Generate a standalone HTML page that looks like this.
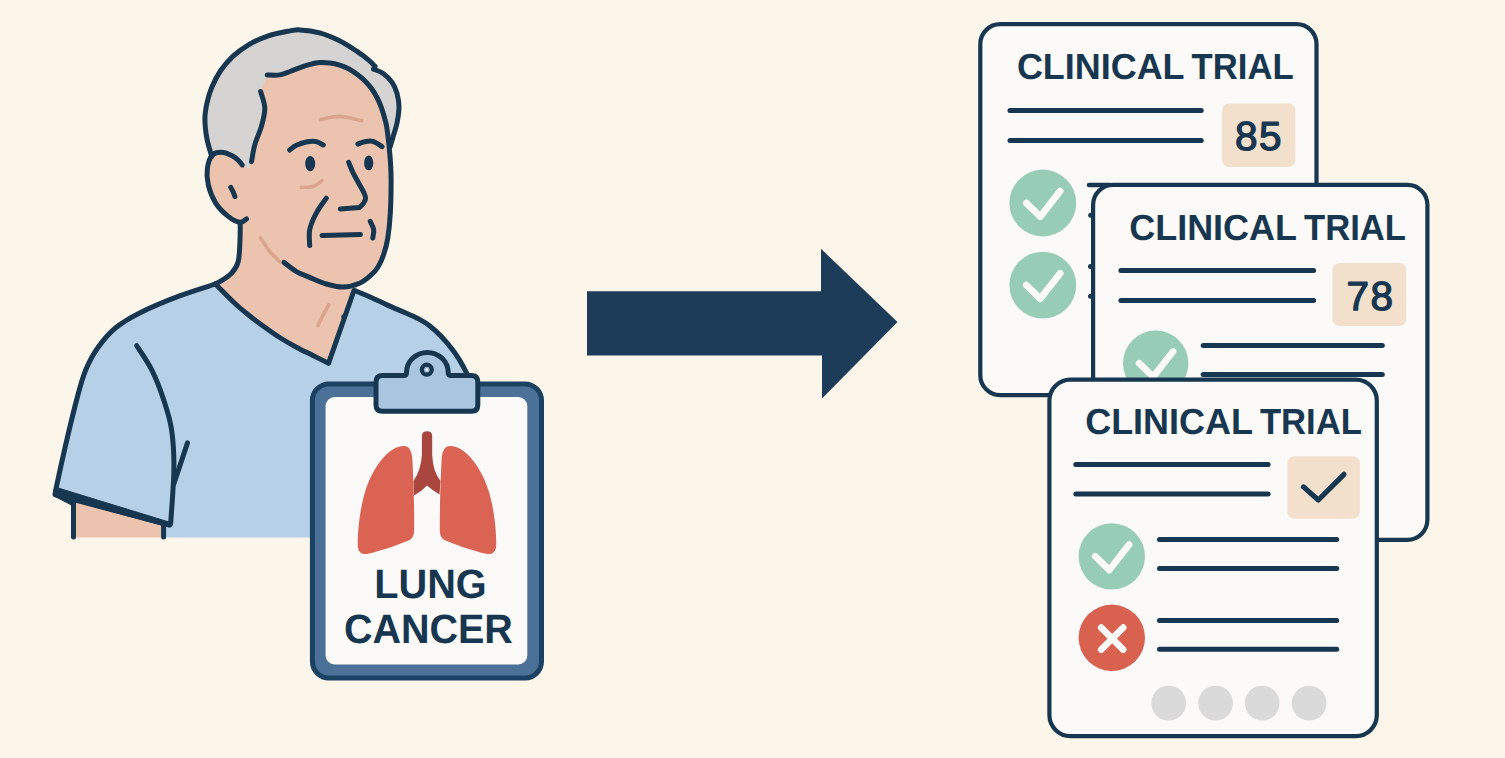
<!DOCTYPE html>
<html><head><meta charset="utf-8"><title>Clinical trial matching</title>
<style>
html,body{margin:0;padding:0;background:#fbf5ea;}
body{width:1505px;height:758px;overflow:hidden;}
svg{display:block}
text{font-family:"Liberation Sans",sans-serif;font-weight:700;fill:#173650;text-rendering:geometricPrecision;}
.ol{fill:none;stroke:#173650;stroke-width:5;stroke-linecap:round;stroke-linejoin:round}
.wr{fill:none;stroke:#daa58c;stroke-width:3.6;stroke-linecap:round}
.ln{stroke:#173650;stroke-width:5;stroke-linecap:round}
</style></head><body>
<svg width="1505" height="758" viewBox="0 0 1505 758">
<rect width="1505" height="758" fill="#fbf5ea"/>

<path d="M73.5,498 L73.5,537.5 L163.6,537.5 L163.6,520 Z" fill="#ebc3af"/>
<path d="M240.2,223.1 C240.2,225.9 240.3,233.6 240.0,240.0 C239.7,246.4 239.6,256.1 238.2,261.6 C236.8,267.1 234.6,269.9 231.5,273.2 C228.4,276.5 222.7,279.8 219.9,281.6 C217.1,283.4 215.7,283.6 214.9,284.0 L250,325 L328.5,372 L354.5,290.5 L385,250 L300,200 Z" fill="#ebc3af"/>
<path d="M215.4,284.0 C209.4,286.0 192.1,291.1 179.5,295.9 C166.9,300.7 150.3,307.6 139.7,312.9 C129.1,318.2 122.7,322.0 115.7,327.8 C108.7,333.6 102.8,340.7 97.8,347.7 C92.8,354.7 89.1,361.8 85.8,369.7 C82.5,377.6 81.2,382.6 77.9,395.0 C74.6,407.4 69.6,427.9 65.9,443.9 C62.2,459.9 57.2,483.1 55.5,491.0 L55,494.7 L163.6,524 L163.6,537.5 L500,537.5 L500,400 L466.6,372.9 C465.3,370.5 461.3,362.8 458.7,358.6 C456.1,354.4 453.7,351.2 450.8,347.5 C447.9,343.8 444.7,340.1 441.3,336.5 C437.9,332.9 433.9,329.1 430.2,326.2 C426.5,323.3 423.6,321.5 419.1,319.1 C414.6,316.7 408.6,314.2 403.3,311.9 C398.0,309.6 392.8,307.5 387.5,305.1 C382.2,302.7 377.2,300.1 371.7,297.7 C366.2,295.3 357.4,291.7 354.5,290.5 L328.5,363.3 C325.9,362.0 318.4,358.2 313.0,355.5 C307.6,352.8 301.9,350.2 296.4,347.2 C290.8,344.2 285.2,341.0 279.7,337.5 C274.1,334.0 268.1,329.6 263.1,326.0 C258.1,322.4 254.5,319.8 249.8,316.0 C245.1,312.2 240.7,308.8 235.0,303.5 C229.3,298.2 218.7,287.2 215.4,284.0 Z" fill="#b6d0e8"/>
<path class="ol" d="M215.4,284.0 C209.4,286.0 192.1,291.1 179.5,295.9 C166.9,300.7 150.3,307.6 139.7,312.9 C129.1,318.2 122.7,322.0 115.7,327.8 C108.7,333.6 102.8,340.7 97.8,347.7 C92.8,354.7 89.1,361.8 85.8,369.7 C82.5,377.6 81.2,382.6 77.9,395.0 C74.6,407.4 69.6,427.9 65.9,443.9 C62.2,459.9 57.2,483.1 55.5,491.0 L55,494.7 L169.6,525"/>
<path class="ol" d="M136.7,345.7 C139.2,349.7 147.1,360.7 151.6,369.7 C156.1,378.7 160.3,389.6 163.6,399.6 C166.9,409.6 169.9,418.2 171.6,429.9 C173.3,441.6 174.1,454.1 173.9,469.8 C173.7,485.5 171.2,515.0 170.6,524.0"/>
<path class="ol" d="M187.5,442.9 L173.9,483.7"/>
<path d="M56.5,487.5 L169,522 L169.5,527 L161.5,525 L77.5,502 L72.5,505.5 L55,496.5 Q53,492.5 54.5,488.5 Z" fill="#173650" stroke="#173650" stroke-width="1" stroke-linejoin="round"/>
<path class="ol" d="M73.5,501 L73.5,537"/>
<path class="ol" d="M163.6,525 L163.6,537"/>
<path class="ol" d="M215.4,284.0 C218.7,287.2 229.3,298.2 235.0,303.5 C240.7,308.8 245.1,312.2 249.8,316.0 C254.5,319.8 258.1,322.4 263.1,326.0 C268.1,329.6 274.1,334.0 279.7,337.5 C285.2,341.0 290.8,344.2 296.4,347.2 C301.9,350.2 307.6,352.8 313.0,355.5 C318.4,358.2 325.9,362.0 328.5,363.3 L354,290.5"/>
<path class="ol" d="M354.5,290.5 C357.4,291.7 366.2,295.3 371.7,297.7 C377.2,300.1 382.2,302.7 387.5,305.1 C392.8,307.5 398.0,309.6 403.3,311.9 C408.6,314.2 414.6,316.7 419.1,319.1 C423.6,321.5 426.5,323.3 430.2,326.2 C433.9,329.1 437.9,332.9 441.3,336.5 C444.7,340.1 447.9,343.8 450.8,347.5 C453.7,351.2 456.1,354.4 458.7,358.6 C461.3,362.8 465.3,370.5 466.6,372.9"/>
<circle cx="343.5" cy="316.8" r="2.3" fill="#173650"/>
<path class="wr" d="M328.8,304.8 Q322,316 318,325.6"/>
<path d="M211.8,156.6 C211.0,153.6 208.1,145.1 206.9,138.8 C205.8,132.5 204.9,124.9 204.9,119.0 C204.9,113.1 205.8,108.5 206.9,103.2 C208.1,97.9 209.5,92.8 211.8,87.3 C214.1,81.8 217.2,75.6 220.7,70.5 C224.2,65.4 228.0,60.9 232.6,56.6 C237.2,52.3 242.6,48.3 248.5,44.8 C254.4,41.3 261.4,38.1 268.3,35.8 C275.2,33.5 284.7,31.9 290.0,30.9 C295.3,29.9 295.0,29.6 300.0,29.9 C305.0,30.2 313.2,31.1 319.8,32.9 C326.4,34.7 333.3,37.7 339.6,40.8 C345.9,43.9 352.4,48.4 357.4,51.7 C362.3,55.0 366.4,58.1 369.3,60.6 C372.2,63.1 374.0,65.5 374.9,66.5 L373.7,69.1 C375.3,69.8 380.1,71.3 383.2,73.5 C386.3,75.7 389.8,79.1 392.1,82.4 C394.4,85.7 395.9,89.2 397.0,93.3 C398.1,97.4 399.0,102.1 399.0,107.1 C399.0,112.0 398.0,118.0 397.0,123.0 C396.0,128.0 394.2,132.9 393.1,136.8 C392.0,140.8 390.6,145.0 390.1,146.7 L389.4,144.7 L300,175 L246,172 L242.3,164.9 L223,152 Z" fill="#d6d4d3"/>
<path d="M242.3,164.9 C241.1,163.7 238.1,159.5 234.9,157.4 C231.7,155.3 226.9,152.8 223.2,152.4 C219.4,152.0 215.0,152.4 212.4,155.0 C209.8,157.6 208.1,163.2 207.4,168.2 C206.7,173.2 206.9,179.1 208.3,184.9 C209.7,190.7 212.4,197.8 215.7,203.1 C219.0,208.3 224.2,213.2 228.2,216.4 C232.2,219.6 236.8,221.9 239.8,222.3 C242.9,222.7 245.4,219.5 246.5,218.9 L260,200 L252,170 Z" fill="#ebc3af"/>
<path d="M267.3,74.9 C269.4,74.9 275.9,75.5 279.7,74.9 C283.5,74.3 286.6,72.7 290.0,71.5 C293.4,70.3 296.7,68.8 300.0,67.6 C303.3,66.4 306.7,65.2 310.0,64.4 C313.3,63.6 316.5,62.8 319.8,62.6 C323.1,62.4 326.7,62.6 330.0,63.0 C333.3,63.4 336.4,64.1 339.6,65.1 C342.8,66.1 346.0,67.4 349.0,69.0 C352.0,70.6 354.7,72.5 357.4,74.5 C360.1,76.5 362.7,78.7 365.0,81.0 C367.3,83.3 369.3,85.5 371.3,88.3 C373.3,91.0 375.4,94.4 377.0,97.5 C378.6,100.6 380.0,103.8 381.2,107.1 C382.4,110.3 383.4,113.7 384.3,117.0 C385.2,120.3 385.9,122.0 386.7,126.9 C387.5,131.8 388.5,140.7 389.1,146.7 C389.7,152.7 390.2,157.5 390.5,163.0 C390.8,168.5 391.1,171.6 391.1,179.9 C391.1,188.2 390.9,203.4 390.3,213.1 C389.8,222.8 388.9,231.1 387.8,238.0 C386.7,244.9 385.2,249.9 383.6,254.7 C382.0,259.5 380.1,263.6 378.0,267.0 C375.9,270.4 374.3,272.2 371.2,274.9 C368.1,277.6 364.2,281.2 359.5,283.2 C354.8,285.2 348.4,286.9 342.9,287.0 C337.4,287.1 331.8,285.6 326.3,284.0 C320.8,282.4 314.7,279.5 309.7,277.4 C304.7,275.3 300.7,274.1 296.4,271.6 C292.1,269.1 286.0,263.9 283.9,262.4 L261,238 L238,250 L240.2,223 L244.5,205 L247,175 L251.5,161.6 C252.1,158.8 253.2,150.6 254.8,144.7 C256.4,138.8 259.7,132.5 261.4,126.4 C263.1,120.3 264.9,113.9 264.8,108.1 C264.7,102.3 261.3,94.3 260.6,91.5 Z" fill="#ebc3af"/>
<path class="ol" d="M240.2,223.1 C240.2,225.9 240.3,233.6 240.0,240.0 C239.7,246.4 239.6,256.1 238.2,261.6 C236.8,267.1 234.6,269.9 231.5,273.2 C228.4,276.5 222.7,279.8 219.9,281.6 C217.1,283.4 215.7,283.6 214.9,284.0"/>
<path class="ol" d="M211.8,156.6 C211.0,153.6 208.1,145.1 206.9,138.8 C205.8,132.5 204.9,124.9 204.9,119.0 C204.9,113.1 205.8,108.5 206.9,103.2 C208.1,97.9 209.5,92.8 211.8,87.3 C214.1,81.8 217.2,75.6 220.7,70.5 C224.2,65.4 228.0,60.9 232.6,56.6 C237.2,52.3 242.6,48.3 248.5,44.8 C254.4,41.3 261.4,38.1 268.3,35.8 C275.2,33.5 284.7,31.9 290.0,30.9 C295.3,29.9 295.0,29.6 300.0,29.9 C305.0,30.2 313.2,31.1 319.8,32.9 C326.4,34.7 333.3,37.7 339.6,40.8 C345.9,43.9 352.4,48.4 357.4,51.7 C362.3,55.0 366.4,58.1 369.3,60.6 C372.2,63.1 374.0,65.5 374.9,66.5"/>
<path class="ol" d="M373.7,69.1 C375.3,69.8 380.1,71.3 383.2,73.5 C386.3,75.7 389.8,79.1 392.1,82.4 C394.4,85.7 395.9,89.2 397.0,93.3 C398.1,97.4 399.0,102.1 399.0,107.1 C399.0,112.0 398.0,118.0 397.0,123.0 C396.0,128.0 394.2,132.9 393.1,136.8 C392.0,140.8 390.6,145.0 390.1,146.7"/>
<path class="ol" d="M374.9,66.5 L373.7,69.1"/>
<path class="ol" d="M267.3,74.9 C269.4,74.9 275.9,75.5 279.7,74.9 C283.5,74.3 286.6,72.7 290.0,71.5 C293.4,70.3 296.7,68.8 300.0,67.6 C303.3,66.4 306.7,65.2 310.0,64.4 C313.3,63.6 316.5,62.8 319.8,62.6 C323.1,62.4 326.7,62.6 330.0,63.0 C333.3,63.4 336.4,64.1 339.6,65.1 C342.8,66.1 346.0,67.4 349.0,69.0 C352.0,70.6 354.7,72.5 357.4,74.5 C360.1,76.5 362.7,78.7 365.0,81.0 C367.3,83.3 369.3,85.5 371.3,88.3 C373.3,91.0 375.4,94.4 377.0,97.5 C378.6,100.6 380.0,103.8 381.2,107.1 C382.4,110.3 383.4,113.7 384.3,117.0 C385.2,120.3 385.9,122.0 386.7,126.9 C387.5,131.8 388.5,140.7 389.1,146.7 C389.7,152.7 390.2,157.5 390.5,163.0 C390.8,168.5 391.1,171.6 391.1,179.9 C391.1,188.2 390.9,203.4 390.3,213.1 C389.8,222.8 388.9,231.1 387.8,238.0 C386.7,244.9 385.2,249.9 383.6,254.7 C382.0,259.5 380.1,263.6 378.0,267.0 C375.9,270.4 374.3,272.2 371.2,274.9 C368.1,277.6 364.2,281.2 359.5,283.2 C354.8,285.2 348.4,286.9 342.9,287.0 C337.4,287.1 331.8,285.6 326.3,284.0 C320.8,282.4 314.7,279.5 309.7,277.4 C304.7,275.3 300.7,274.1 296.4,271.6 C292.1,269.1 286.0,263.9 283.9,262.4"/>
<path class="ol" d="M260.6,91.5 C261.3,94.3 264.7,102.3 264.8,108.1 C264.9,113.9 263.1,120.3 261.4,126.4 C259.7,132.5 256.4,138.8 254.8,144.7 C253.2,150.6 252.1,158.8 251.5,161.6"/>
<path class="ol" d="M242.3,164.9 C241.1,163.7 238.1,159.5 234.9,157.4 C231.7,155.3 226.9,152.8 223.2,152.4 C219.4,152.0 215.0,152.4 212.4,155.0 C209.8,157.6 208.1,163.2 207.4,168.2 C206.7,173.2 206.9,179.1 208.3,184.9 C209.7,190.7 212.4,197.8 215.7,203.1 C219.0,208.3 224.2,213.2 228.2,216.4 C232.2,219.6 236.8,221.9 239.8,222.3 C242.9,222.7 245.4,219.5 246.5,218.9"/>
<path class="ol" d="M230.7,187.3 Q233.5,192 234.9,196.5"/>
<path class="ol" d="M289.7,150.0 C290.8,149.2 293.6,146.6 296.4,145.3 C299.2,144.0 303.0,142.6 306.3,142.0 C309.6,141.4 313.5,141.1 316.3,141.6 C319.1,142.1 322.1,144.4 323.3,145.0"/>
<path class="ol" d="M357.9,144.1 C359.0,143.7 362.0,142.2 364.5,141.8 C367.0,141.4 370.0,140.6 372.9,141.4 C375.8,142.2 380.5,145.7 382.0,146.6"/>
<ellipse cx="310.2" cy="163.7" rx="5" ry="7.6" fill="#173650"/>
<ellipse cx="368.7" cy="162.9" rx="4.6" ry="7.4" fill="#173650"/>
<path class="ol" d="M348.7,162.4 C349.4,164.1 351.2,168.9 352.9,172.4 C354.6,175.9 356.9,179.9 358.7,183.2 C360.5,186.5 362.5,189.8 363.7,192.3 C364.9,194.8 365.6,196.2 365.6,198.0 C365.6,199.8 364.7,201.4 363.7,203.0 C362.7,204.6 360.2,206.8 359.5,207.6 L340.4,209"/>
<path class="ol" d="M326.3,198.2 C324.6,200.7 319.1,207.8 316.3,213.1 C313.5,218.3 310.8,224.3 309.7,229.7 C308.6,235.1 309.7,242.9 309.7,245.5"/>
<path class="ol" d="M322.1,235.6 L360.4,234.4"/>
<path class="ol" d="M370.3,221.4 C370.9,222.8 373.3,226.9 373.7,229.7 C374.1,232.5 372.9,236.6 372.8,238.0"/>
<path class="wr" d="M320.5,119.7 C323.7,119.2 332.7,116.2 339.6,116.4 C346.5,116.6 358.3,119.9 362.0,120.6"/>
<path class="wr" d="M301.3,187.3 C303.2,187.2 309.5,187.6 313.0,186.5 C316.5,185.4 320.6,181.7 322.1,180.7"/>
<path class="wr" d="M260.6,238.0 C262.1,240.3 266.6,247.7 269.8,251.6 C273.0,255.5 278.1,259.9 279.7,261.6"/>
<rect x="312.4" y="384" width="229.1" height="294.1" rx="16.5" fill="#4c7198" stroke="#1c4263" stroke-width="5"/>
<rect x="325.6" y="397" width="201.7" height="267.5" rx="9" fill="#fbfaf8"/>
<path d="M382.5,375.6 H403.5 Q406.5,375.6 406.5,372.6 A20.85,20.2 0 0 1 448.2,372.6 Q448.2,375.6 451.2,375.6 H471.5 Q477.8,375.6 477.8,382 V405 Q477.8,411.3 471.5,411.3 H382.5 Q376,411.3 376,405 V382 Q376,375.6 382.5,375.6 Z" fill="#a9c6e0" stroke="#173650" stroke-width="5" stroke-linejoin="round"/>
<circle cx="426.8" cy="369.7" r="5" fill="#8fb0cf" stroke="#173650" stroke-width="4.2"/>
<circle cx="426.8" cy="369.7" r="1.5" fill="#f3f6fa"/>
<path d="M421.9,436 Q421.9,431.2 427,431.2 Q432.2,431.2 432.2,436 L432.2,455 Q433,472 440.5,481 L439.5,494.5 Q432,490 427,485.5 Q421,492 414,495.5 L413.5,481 Q421,470 421.9,455 Z" fill="#a9473f"/>
<path d="M403.5,446 C408.5,445.5 411.5,450 412.3,458 C413.5,480 414.3,505 414.2,529 C414.2,535 413,538.5 408.5,540.5 C395,546 380,551 368,553.8 C362,555 358.2,552.5 357.8,546 C357.5,535 359,518 362.2,503 C364.5,492 368,482 372.6,473.6 C377,465.5 381,460 386.4,454.6 C391.5,449.5 397,446.5 403.5,446 Z" fill="#da6353"/>
<path d="M450.5,446 C445.5,445.5 442.5,450 441.7,458 C440.5,480 439.7,505 439.8,529 C439.8,535 441.0,538.5 445.5,540.5 C459.0,546 474.0,551 486.0,553.8 C492.0,555 495.8,552.5 496.2,546 C496.5,535 495.0,518 491.8,503 C489.5,492 486.0,482 481.4,473.6 C477.0,465.5 473.0,460 467.6,454.6 C462.5,449.5 457.0,446.5 450.5,446 Z" fill="#da6353"/>
<text x="430.5" y="597.8" font-size="41" text-anchor="middle" textLength="112.5" lengthAdjust="spacingAndGlyphs">LUNG</text>
<text x="428.4" y="643.3" font-size="41" text-anchor="middle" textLength="169" lengthAdjust="spacingAndGlyphs">CANCER</text>
<path d="M587,291.3 L821,291.3 L821,248.8 L897.5,322 L822,398.5 L822,355.6 L587,355.6 Z" fill="#1d3c59"/>
<rect x="980.3" y="24.2" width="336.2" height="371.0" rx="20" fill="#fbfaf8" stroke="#173650" stroke-width="4.2"/>
<text y="78.7" font-size="36.2"><tspan x="1016.9" textLength="167" lengthAdjust="spacingAndGlyphs">CLINICAL</tspan> <tspan x="1191.6" textLength="102" lengthAdjust="spacingAndGlyphs">TRIAL</tspan></text>
<line class="ln" x1="1010.0" x2="1201.2" y1="110.5" y2="110.5"/>
<line class="ln" x1="1010.0" x2="1201.2" y1="140.5" y2="140.5"/>
<rect x="1222" y="103.4" width="73.3" height="63.6" rx="7" fill="#f2dfcc"/>
<text x="1259.0" y="150.1" font-size="40.5" text-anchor="middle" letter-spacing="1.4" style="font-weight:400;stroke:#173650;stroke-width:1.3;stroke-linejoin:round">85</text>
<circle cx="1042.8" cy="203" r="33.4" fill="#97ccb6"/>
<path d="M1026.3,203.0 L1040.3,216.6 L1060.1,191.2" fill="none" stroke="#fbfaf8" stroke-width="6.8" stroke-linecap="round" stroke-linejoin="round"/>
<circle cx="1042.8" cy="285.1" r="33.4" fill="#97ccb6"/>
<path d="M1026.3,285.1 L1040.3,298.7 L1060.1,273.3" fill="none" stroke="#fbfaf8" stroke-width="6.8" stroke-linecap="round" stroke-linejoin="round"/>
<line class="ln" x1="1090.7" x2="1100" y1="215.3" y2="215.3"/>
<line class="ln" x1="1090.5" x2="1100" y1="266.5" y2="266.5"/>
<line class="ln" x1="1090.5" x2="1100" y1="296.2" y2="296.2"/>
<line x1="1089" x2="1110" y1="185" y2="185" stroke="#173650" stroke-width="4.5" stroke-linecap="round"/>
<rect x="1093.1" y="184.8" width="334.3" height="355.0" rx="20" fill="#fbfaf8" stroke="#173650" stroke-width="4.2"/>
<text y="239.8" font-size="36.2"><tspan x="1129.3" textLength="167" lengthAdjust="spacingAndGlyphs">CLINICAL</tspan> <tspan x="1304.0" textLength="102" lengthAdjust="spacingAndGlyphs">TRIAL</tspan></text>
<line class="ln" x1="1120.9" x2="1313.6" y1="270.5" y2="270.5"/>
<line class="ln" x1="1120.9" x2="1313.6" y1="300.5" y2="300.5"/>
<rect x="1332.5" y="263" width="73.8" height="63.0" rx="7" fill="#f2dfcc"/>
<text x="1370.5" y="310.1" font-size="40.5" text-anchor="middle" letter-spacing="1.4" style="font-weight:400;stroke:#173650;stroke-width:1.3;stroke-linejoin:round">78</text>
<circle cx="1155.7" cy="363.3" r="32.7" fill="#97ccb6"/>
<path d="M1139.2,363.3 L1153.2,376.9 L1173.0,351.5" fill="none" stroke="#fbfaf8" stroke-width="6.8" stroke-linecap="round" stroke-linejoin="round"/>
<line class="ln" x1="1203.2" x2="1382.3" y1="345.5" y2="345.5"/>
<line class="ln" x1="1203.2" x2="1382.3" y1="374.4" y2="374.4"/>
<rect x="1049.4" y="379.6" width="327.4" height="356.5" rx="21" fill="#fbfaf8" stroke="#173650" stroke-width="4.2"/>
<text y="434.0" font-size="36.2"><tspan x="1085.2" textLength="167" lengthAdjust="spacingAndGlyphs">CLINICAL</tspan> <tspan x="1259.9" textLength="102" lengthAdjust="spacingAndGlyphs">TRIAL</tspan></text>
<line class="ln" x1="1075.8" x2="1268.1" y1="464.6" y2="464.6"/>
<line class="ln" x1="1075.8" x2="1268.1" y1="493.9" y2="493.9"/>
<rect x="1287.3" y="456.2" width="72.6" height="62.5" rx="7" fill="#f2dfcc"/>
<path d="M1303.5,486.9 L1318.3,500 L1344,474.3" fill="none" stroke="#173650" stroke-width="5.2" stroke-linecap="round" stroke-linejoin="round"/>
<circle cx="1111.8" cy="556.4" r="33.2" fill="#97ccb6"/>
<path d="M1095.3,556.4 L1109.3,570.0 L1129.1,544.6" fill="none" stroke="#fbfaf8" stroke-width="6.8" stroke-linecap="round" stroke-linejoin="round"/>
<circle cx="1111.8" cy="637.8" r="33.2" fill="#d9614f"/>
<path d="M1101.2,627.6 L1123.2,649.6 M1123.2,627.6 L1101.2,649.6" fill="none" stroke="#fbfaf8" stroke-width="6.6" stroke-linecap="round"/>
<line class="ln" x1="1159.5" x2="1336.7" y1="539.4" y2="539.4"/>
<line class="ln" x1="1159.5" x2="1336.7" y1="568.4" y2="568.4"/>
<line class="ln" x1="1159.5" x2="1336.7" y1="620.6" y2="620.6"/>
<line class="ln" x1="1159.5" x2="1336.7" y1="649.3" y2="649.3"/>
<circle cx="1168.7" cy="703.1" r="17.4" fill="#dadada"/>
<circle cx="1215.6" cy="703.1" r="17.4" fill="#dadada"/>
<circle cx="1262.2" cy="703.1" r="17.4" fill="#dadada"/>
<circle cx="1309.1" cy="703.1" r="17.4" fill="#dadada"/>
</svg></body></html>
